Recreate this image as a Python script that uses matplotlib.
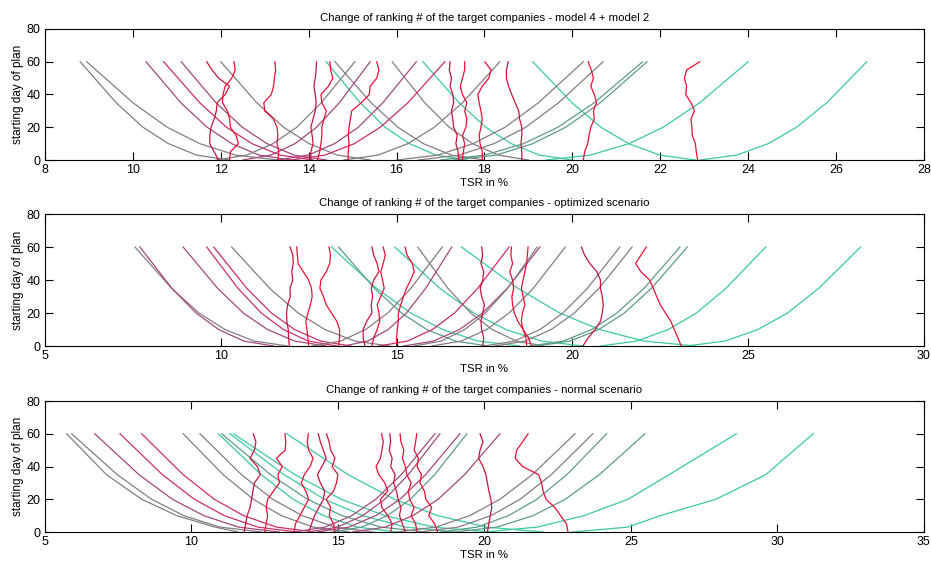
import matplotlib
matplotlib.use("Agg")
import matplotlib.pyplot as plt

plt.rcParams['font.family'] = ['Liberation Sans', 'DejaVu Sans']

# day of plan at which the TSR values below were taken
curve_days = [0, 3, 10, 20, 35, 60]
red_days = [0, 5, 10, 15, 20, 25, 30, 35, 40, 45, 50, 55, 60]

GREY = '#867c84'
PLUM = '#a4487c'
ROSE = '#cc2e68'
RED = '#ec1034'
CRIMSON = '#c8143c'
GREEN = '#3ccaa0'
TEAL = '#5e9c86'

# ---- model 4 + model 2 ----
p1_curves = [
    [12.2, 11.45, 10.81, 10.23, 9.62, 8.8],
    [13.3, 12.34, 11.52, 10.78, 10.0, 8.95],
    [13.6, 12.87, 12.25, 11.69, 11.09, 10.3],
    [14.1, 13.35, 12.71, 12.13, 11.52, 10.7],
    [14.4, 13.67, 13.05, 12.49, 11.89, 11.1],
    [15.4, 14.65, 14.01, 13.43, 12.82, 12.0],
    [17.6, 16.9, 16.29, 15.74, 15.17, 14.4],
    [18.0, 17.25, 16.61, 16.03, 15.42, 14.6],
    [19.0, 18.32, 17.73, 17.2, 16.64, 15.9],
    [20.0, 19.25, 18.61, 18.03, 17.42, 16.6],
    [22.8, 21.99, 21.28, 20.65, 19.99, 19.1],
    [11.9, 12.59, 13.19, 13.73, 14.29, 15.05],
    [12.5, 13.14, 13.69, 14.18, 14.7, 15.4],
    [13.3, 13.99, 14.59, 15.13, 15.69, 16.45],
    [13.6, 14.37, 15.04, 15.63, 16.26, 17.1],
    [14.8, 15.58, 16.26, 16.86, 17.5, 18.35],
    [16.0, 16.94, 17.74, 18.47, 19.23, 20.25],
    [16.5, 17.42, 18.22, 18.94, 19.69, 20.7],
    [17.0, 18.01, 18.89, 19.67, 20.5, 21.6],
    [17.3, 18.27, 19.1, 19.85, 20.64, 21.7],
    [19.4, 20.41, 21.29, 22.07, 22.9, 24.0],
    [22.9, 23.74, 24.46, 25.1, 25.79, 26.7],
]
p1_curve_colors = [GREY, GREY, PLUM, ROSE, PLUM, GREY, GREEN, GREY, GREY,
                   GREEN, GREEN, GREY, PLUM, PLUM, ROSE, GREY, GREY, GREY,
                   TEAL, TEAL, GREEN, GREEN]
p1_reds = [
    [11.95, 11.85, 11.75, 11.75, 11.78, 11.85, 11.9, 11.92, 12.1, 12.2, 11.95, 11.8, 11.68],
    [12.2, 12.22, 12.4, 12.35, 12.22, 12.2, 12.15, 12.04, 12.05, 12.1, 12.25, 12.33, 12.3],
    [13.3, 13.32, 13.28, 13.3, 13.28, 13.2, 13.0, 12.98, 13.15, 13.2, 13.22, 13.25, 13.23],
    [14.05, 14.05, 14.1, 14.08, 14.05, 14.1, 14.15, 14.17, 14.15, 14.12, 14.15, 14.17, 14.18],
    [14.2, 14.25, 14.28, 14.3, 14.3, 14.35, 14.4, 14.3, 14.28, 14.45, 14.55, 14.5, 14.48],
    [14.9, 14.9, 14.92, 14.9, 14.92, 14.95, 14.98, 15.2, 15.38, 15.4, 15.55, 15.6, 15.55],
    [17.42, 17.4, 17.35, 17.38, 17.3, 17.28, 17.25, 17.3, 17.28, 17.22, 17.25, 17.2, 17.22],
    [17.5, 17.52, 17.55, 17.5, 17.58, 17.6, 17.55, 17.6, 17.5, 17.45, 17.5, 17.55, 17.55],
    [17.95, 17.95, 17.9, 17.88, 17.92, 17.95, 17.92, 17.88, 17.85, 17.95, 18.1, 18.15, 18.01],
    [18.85, 18.85, 18.83, 18.85, 18.85, 18.8, 18.78, 18.7, 18.62, 18.55, 18.5, 18.5, 18.54],
    [20.25, 20.28, 20.35, 20.38, 20.42, 20.5, 20.48, 20.55, 20.5, 20.42, 20.48, 20.43, 20.36],
    [22.85, 22.82, 22.8, 22.73, 22.72, 22.7, 22.78, 22.7, 22.58, 22.6, 22.55, 22.6, 22.9],
]

# ---- optimized scenario ----
p2_curves = [
    [11.9, 10.95, 10.12, 9.38, 8.6, 7.56],
    [11.5, 10.66, 9.94, 9.3, 8.61, 7.7],
    [13.0, 12.1, 11.33, 10.64, 9.91, 8.93],
    [13.3, 12.49, 11.78, 11.15, 10.49, 9.6],
    [13.7, 12.84, 12.1, 11.44, 10.74, 9.8],
    [14.8, 13.81, 12.96, 12.2, 11.39, 10.31],
    [18.5, 17.32, 16.31, 15.4, 14.43, 13.15],
    [17.6, 16.67, 15.86, 15.14, 14.37, 13.35],
    [20.3, 19.12, 18.11, 17.2, 16.23, 14.95],
    [23.5, 22.04, 20.77, 19.64, 18.45, 16.85],
    [19.2, 18.41, 17.72, 17.11, 16.46, 15.6],
    [12.6, 13.41, 14.12, 14.75, 15.41, 16.3],
    [13.5, 14.18, 14.76, 15.28, 15.83, 16.57],
    [14.5, 15.31, 16.02, 16.65, 17.31, 18.2],
    [15.2, 16.05, 16.79, 17.45, 18.15, 19.08],
    [15.5, 16.27, 16.94, 17.53, 18.16, 19.0],
    [16.0, 16.84, 17.56, 18.2, 18.89, 19.8],
    [17.5, 18.35, 19.08, 19.73, 20.43, 21.35],
    [17.8, 18.66, 19.4, 20.06, 20.76, 21.7],
    [18.8, 19.74, 20.55, 21.27, 22.04, 23.06],
    [19.0, 19.94, 20.75, 21.48, 22.25, 23.27],
    [20.8, 21.83, 22.73, 23.53, 24.37, 25.5],
    [23.25, 24.34, 25.28, 26.12, 27.01, 28.2],
]
p2_curve_colors = [GREY, PLUM, PLUM, ROSE, ROSE, GREY, GREEN, TEAL, GREEN,
                   GREEN, GREY, GREY, PLUM, ROSE, PLUM, GREY, GREY, GREY,
                   GREY, TEAL, TEAL, GREEN, GREEN]
p2_reds = [
    [11.95, 11.93, 11.92, 11.88, 11.87, 11.9, 11.98, 11.97, 12.05, 12.02, 12.06, 12.05, 11.97],
    [12.5, 12.48, 12.45, 12.42, 12.48, 12.55, 12.6, 12.58, 12.5, 12.35, 12.2, 12.18, 12.16],
    [13.35, 13.38, 13.38, 13.3, 13.15, 13.0, 12.92, 12.82, 12.85, 13.0, 13.1, 13.12, 13.08],
    [14.1, 14.05, 14.05, 14.15, 14.3, 14.28, 14.32, 14.28, 14.35, 14.5, 14.45, 14.35, 14.3],
    [14.3, 14.35, 14.45, 14.52, 14.5, 14.45, 14.55, 14.65, 14.6, 14.55, 14.62, 14.68, 14.62],
    [15.0, 15.0, 15.02, 15.05, 15.05, 15.12, 15.2, 15.28, 15.4, 15.5, 15.45, 15.3, 15.24],
    [17.45, 17.48, 17.42, 17.4, 17.45, 17.5, 17.42, 17.38, 17.45, 17.48, 17.4, 17.45, 17.42],
    [18.84, 18.75, 18.6, 18.45, 18.35, 18.3, 18.28, 18.33, 18.3, 18.22, 18.3, 18.25, 18.27],
    [18.7, 18.68, 18.6, 18.55, 18.58, 18.65, 18.6, 18.55, 18.6, 18.65, 18.7, 18.72, 18.74],
    [20.3, 20.45, 20.65, 20.8, 20.85, 20.88, 20.85, 20.8, 20.8, 20.7, 20.5, 20.35, 20.26],
    [23.1, 23.0, 22.9, 22.8, 22.65, 22.5, 22.4, 22.3, 22.2, 21.95, 21.8, 21.95, 22.1],
]

# ---- normal scenario ----
p3_curves = [
    [11.6, 10.8, 9.5, 8.3, 7.1, 5.74],
    [12.4, 10.97, 9.74, 8.64, 7.47, 5.91],
    [13.0, 11.61, 10.42, 9.35, 8.21, 6.7],
    [13.6, 12.27, 11.12, 10.1, 9.01, 7.56],
    [14.2, 12.9, 11.78, 10.78, 9.72, 8.3],
    [15.4, 14.15, 13.07, 12.11, 11.08, 9.72],
    [16.2, 14.9, 13.78, 12.77, 11.71, 10.29],
    [17.0, 15.66, 14.51, 13.47, 12.38, 10.92],
    [18.0, 16.47, 15.14, 13.96, 12.7, 11.03],
    [19.0, 17.31, 15.85, 14.54, 13.16, 11.31],
    [20.2, 18.27, 16.6, 15.11, 13.53, 11.43],
    [22.0, 20.08, 18.41, 16.93, 15.35, 13.25],
    [13.5, 14.56, 15.47, 16.29, 17.16, 18.31],
    [14.0, 14.99, 15.84, 16.6, 17.4, 18.48],
    [14.3, 15.37, 16.29, 17.12, 17.99, 19.16],
    [14.8, 15.81, 16.69, 17.47, 18.3, 19.4],
    [15.5, 16.61, 17.56, 18.42, 19.32, 20.53],
    [17.0, 18.34, 19.5, 20.53, 21.63, 23.09],
    [17.8, 19.1, 20.22, 21.22, 22.28, 23.7],
    [18.5, 19.75, 20.82, 21.79, 22.81, 24.17],
    [19.0, 20.43, 21.66, 22.76, 23.92, 25.48],
    [20.0, 21.8, 23.4, 24.9, 26.3, 28.6],
    [23.0, 24.9, 26.0, 27.9, 29.6, 31.22],
]
p3_curve_colors = [GREY, GREY, PLUM, ROSE, ROSE, GREY, GREY, GREEN, TEAL,
                   GREEN, GREEN, GREEN, PLUM, PLUM, PLUM, TEAL, PLUM, GREY,
                   GREY, TEAL, TEAL, GREEN, GREEN]
p3_reds = [
    [11.8, 11.85, 11.9, 12.0, 12.05, 12.1, 12.15, 12.35, 12.25, 12.0, 12.15, 12.2, 12.11],
    [12.5, 12.55, 12.6, 12.55, 12.6, 12.8, 13.0, 12.95, 13.1, 12.9, 13.2, 13.22, 13.19],
    [13.5, 13.55, 13.7, 13.85, 14.0, 13.9, 13.75, 13.85, 14.05, 14.15, 14.0, 13.95, 13.99],
    [14.0, 14.1, 14.2, 14.35, 14.5, 14.55, 14.4, 14.3, 14.45, 14.6, 14.5, 14.4, 14.33],
    [14.9, 14.85, 14.7, 14.75, 14.6, 14.85, 14.95, 15.0, 14.8, 14.9, 14.75, 14.7, 14.61],
    [16.8, 16.85, 16.7, 16.5, 16.45, 16.7, 16.6, 16.4, 16.3, 16.45, 16.5, 16.55, 16.49],
    [17.3, 17.2, 17.1, 17.15, 17.05, 17.0, 16.9, 16.95, 16.8, 16.85, 16.75, 16.8, 16.77],
    [17.7, 17.65, 17.5, 17.6, 17.45, 17.4, 17.5, 17.35, 17.3, 17.2, 17.25, 17.15, 17.12],
    [18.4, 18.3, 18.1, 18.2, 18.0, 17.95, 17.8, 17.85, 17.7, 17.75, 17.6, 17.65, 17.69],
    [20.1, 20.15, 20.2, 20.25, 20.22, 20.15, 20.1, 20.05, 19.95, 19.8, 19.85, 19.95, 19.85],
    [22.85, 22.8, 22.6, 22.4, 22.1, 22.0, 21.95, 21.85, 21.3, 21.05, 21.1, 21.3, 21.49],
]

panels = [
    ("Change of ranking # of the target companies - model 4 + model 2",
     p1_curves, p1_curve_colors, p1_reds, (8, 28), range(8, 29, 2)),
    ("Change of ranking # of the target companies - optimized scenario",
     p2_curves, p2_curve_colors, p2_reds, (5, 30), range(5, 31, 5)),
    ("Change of ranking # of the target companies - normal scenario",
     p3_curves, p3_curve_colors, p3_reds, (5, 35), range(5, 36, 5)),
]

fig = plt.figure(figsize=(9.31, 5.64), dpi=100)
boxes = [(0.0483, 0.7163, 0.9441, 0.2323),
         (0.0483, 0.3865, 0.9441, 0.2340),
         (0.0483, 0.0567, 0.9441, 0.2323)]

for (title, curves, colors, reds, xlim, xticks), box in zip(panels, boxes):
    ax = fig.add_axes(box)
    for xs, c in zip(curves, colors):
        ax.plot(xs, curve_days, color=c, lw=0.9)
    for i, xs in enumerate(reds):
        ax.plot(xs, red_days, color=RED if i % 3 else CRIMSON, lw=0.9)
    ax.set_xlim(*xlim)
    ax.set_ylim(0, 80)
    ax.set_xticks(list(xticks))
    ax.set_yticks([0, 20, 40, 60, 80])
    ax.tick_params(direction='in', length=5.8, width=0.8, top=True, right=True,
                   labelsize=9, pad=3)
    for s in ax.spines.values():
        s.set_linewidth(0.8)
    ax.set_title(title, fontsize=8.2, pad=6)
    ax.set_xlabel('TSR in %', fontsize=8.2, labelpad=1)
    ax.set_ylabel('starting day of plan', fontsize=8.5, labelpad=2)

fig.savefig('out.png', dpi=100)
